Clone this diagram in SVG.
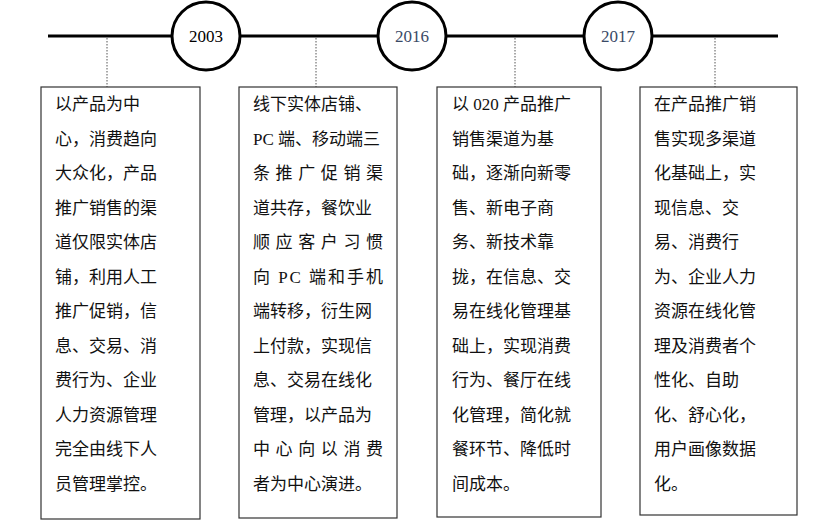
<svg xmlns="http://www.w3.org/2000/svg" width="820" height="529" viewBox="0 0 820 529">
<style>
.ln{stroke:#000;stroke-width:3;fill:none}
.yr{fill:#fff;stroke:#000;stroke-width:3}
.dot{stroke:#555;stroke-width:1;stroke-dasharray:1.5 1.5}
.box{fill:#fff;stroke:#333;stroke-width:1.2}
.t{font-family:"Liberation Serif","Noto Sans CJK SC",serif;font-size:17px;fill:#111}
.y{font-family:"Liberation Serif",serif;font-size:17px;text-anchor:middle}
</style>
<rect width="820" height="529" fill="#fff"/>
<g id="connectors">
<line class="ln" x1="48" y1="36" x2="778" y2="36"/>
<line class="dot" x1="107" y1="38" x2="107" y2="87"/>
<line class="dot" x1="316" y1="38" x2="316" y2="87"/>
<line class="dot" x1="515" y1="38" x2="515" y2="87"/>
<line class="dot" x1="715" y1="38" x2="715" y2="87"/>
</g>
<g id="y2003"><circle class="yr" cx="206" cy="36" r="34"/><text class="y" x="206" y="42" fill="#000">2003</text></g>
<g id="y2016"><circle class="yr" cx="412" cy="36" r="34"/><text class="y" x="412" y="42" fill="#3a4a66">2016</text></g>
<g id="y2017"><circle class="yr" cx="618" cy="36" r="34"/><text class="y" x="618" y="42" fill="#3a4a66">2017</text></g>
<g id="box1"><rect class="box" x="41" y="87" width="159" height="432"/>
<text class="t" x="55" y="110">以产品为中</text>
<text class="t" x="55" y="144.5">心，消费趋向</text>
<text class="t" x="55" y="179">大众化，产品</text>
<text class="t" x="55" y="213.5">推广销售的渠</text>
<text class="t" x="55" y="248">道仅限实体店</text>
<text class="t" x="55" y="282.5">铺，利用人工</text>
<text class="t" x="55" y="317">推广促销，信</text>
<text class="t" x="55" y="351.5">息、交易、消</text>
<text class="t" x="55" y="386">费行为、企业</text>
<text class="t" x="55" y="420.5">人力资源管理</text>
<text class="t" x="55" y="455">完全由线下人</text>
<text class="t" x="55" y="489.5">员管理掌控。</text>
</g>
<g id="box2"><rect class="box" x="239" y="87" width="158" height="431"/>
<text class="t" x="253" y="110">线下实体店铺、</text>
<text class="t" x="253" y="144.5">PC 端、移动端三</text>
<text class="t" x="253" y="179" textLength="130" lengthAdjust="spacing">条推广促销渠</text>
<text class="t" x="253" y="213.5">道共存，餐饮业</text>
<text class="t" x="253" y="248" textLength="130" lengthAdjust="spacing">顺应客户习惯</text>
<text class="t" x="253" y="282.5" textLength="130" lengthAdjust="spacing">向 PC 端和手机</text>
<text class="t" x="253" y="317">端转移，衍生网</text>
<text class="t" x="253" y="351.5">上付款，实现信</text>
<text class="t" x="253" y="386">息、交易在线化</text>
<text class="t" x="253" y="420.5">管理，以产品为</text>
<text class="t" x="253" y="455" textLength="130" lengthAdjust="spacing">中心向以消费</text>
<text class="t" x="253" y="489.5">者为中心演进。</text>
</g>
<g id="box3"><rect class="box" x="437" y="87" width="164" height="430"/>
<text class="t" x="452" y="110">以 020 产品推广</text>
<text class="t" x="452" y="144.5">销售渠道为基</text>
<text class="t" x="452" y="179">础，逐渐向新零</text>
<text class="t" x="452" y="213.5">售、新电子商</text>
<text class="t" x="452" y="248">务、新技术靠</text>
<text class="t" x="452" y="282.5">拢，在信息、交</text>
<text class="t" x="452" y="317">易在线化管理基</text>
<text class="t" x="452" y="351.5">础上，实现消费</text>
<text class="t" x="452" y="386">行为、餐厅在线</text>
<text class="t" x="452" y="420.5">化管理，简化就</text>
<text class="t" x="452" y="455">餐环节、降低时</text>
<text class="t" x="452" y="489.5">间成本。</text>
</g>
<g id="box4"><rect class="box" x="640" y="87" width="157" height="428"/>
<text class="t" x="654" y="110">在产品推广销</text>
<text class="t" x="654" y="144.5">售实现多渠道</text>
<text class="t" x="654" y="179">化基础上，实</text>
<text class="t" x="654" y="213.5">现信息、交</text>
<text class="t" x="654" y="248">易、消费行</text>
<text class="t" x="654" y="282.5">为、企业人力</text>
<text class="t" x="654" y="317">资源在线化管</text>
<text class="t" x="654" y="351.5">理及消费者个</text>
<text class="t" x="654" y="386">性化、自助</text>
<text class="t" x="654" y="420.5">化、舒心化，</text>
<text class="t" x="654" y="455">用户画像数据</text>
<text class="t" x="654" y="489.5">化。</text>
</g>
</svg>
